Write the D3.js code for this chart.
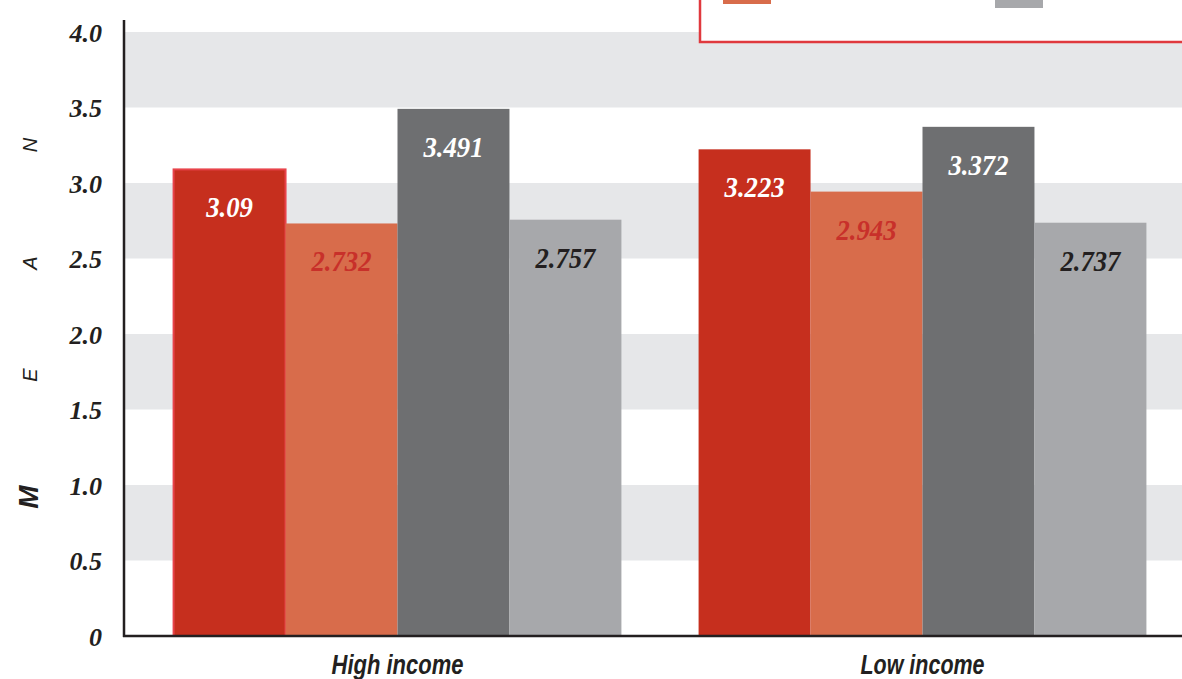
<!DOCTYPE html>
<html>
<head>
<meta charset="utf-8">
<script src="https://cdn.jsdelivr.net/npm/d3@7"></script>
<style>
  html, body { margin: 0; padding: 0; background: #ffffff; }
  svg { display: block; }
  .num { font-family: "Liberation Serif", "DejaVu Serif", serif; font-style: italic; font-weight: bold; }
  .cat { font-family: "Liberation Sans", "DejaVu Sans", sans-serif; font-style: italic; font-weight: bold; }
  .ttl { font-family: "Liberation Sans", "DejaVu Sans", sans-serif; font-style: italic; }
</style>
</head>
<body>
<script>
// Mean scores by income group
const categories = ["High income", "Low income"];
const seriesKeys = ["s1", "s2", "s3", "s4"];
const s1Values = [3.09, 3.223];
const s2Values = [2.732, 2.943];
const s3Values = [3.491, 3.372];
const s4Values = [2.757, 2.737];
const yTicks = [0, 0.5, 1.0, 1.5, 2.0, 2.5, 3.0, 3.5, 4.0];
const yTickLabels = ["0", "0.5", "1.0", "1.5", "2.0", "2.5", "3.0", "3.5", "4.0"];
const axisTitleLetters = ["M", "E", "A", "N"];

const seriesValues = [s1Values, s2Values, s3Values, s4Values];
const fills = ["#c62f1e", "#d86c4b", "#6e6f71", "#a7a8ab"];
const labelColors = ["#ffffff", "#c8302a", "#ffffff", "#231f20"];

const W = 1182, H = 679;
const svg = d3.select("body").append("svg").attr("width", W).attr("height", H);

const y = d3.scaleLinear().domain([0, 4]).range([636, 32]);
const x0 = d3.scaleBand().domain(categories).range([135, 1185])
  .paddingInner(0.147).paddingOuter(0.0735);
const x1 = d3.scaleBand().domain(seriesKeys).range([0, x0.bandwidth()]);

// alternating background bands (every other half-unit interval)
const bandSpans = d3.range(0, yTicks.length - 1).filter(i => i % 2 === 1).map(i => [yTicks[i], yTicks[i + 1]]);
svg.append("g").selectAll("rect").data(bandSpans).join("rect")
  .attr("x", 124).attr("width", W - 124)
  .attr("y", d => y(d[1])).attr("height", d => y(d[0]) - y(d[1]))
  .attr("fill", "#e6e7e9");

// bars
const groups = svg.append("g").selectAll("g").data(categories).join("g")
  .attr("transform", d => `translate(${x0(d)},0)`);

groups.each(function (cat, ci) {
  const g = d3.select(this);
  seriesKeys.forEach((k, si) => {
    const v = seriesValues[si][ci];
    g.append("rect")
      .attr("x", x1(k)).attr("width", x1.bandwidth())
      .attr("y", y(v)).attr("height", y(0) - y(v))
      .attr("fill", fills[si])
      .attr("stroke", si === 0 && ci === 0 ? "#e8434a" : "none")
      .attr("stroke-width", si === 0 && ci === 0 ? 2 : 0);
    g.append("text").attr("class", "num")
      .attr("x", x1(k) + x1.bandwidth() / 2)
      .attr("y", y(v) + 48)
      .attr("text-anchor", "middle")
      .attr("font-size", 29)
      .attr("fill", labelColors[si])
      .attr("transform", `translate(${x1(k) + x1.bandwidth() / 2},0) scale(0.92,1) translate(${-(x1(k) + x1.bandwidth() / 2)},0)`)
      .text(d3.format(".4~f")(v));
  });
});

// y axis
const yAxis = d3.axisLeft(y).tickValues(yTicks).tickSize(0)
  .tickFormat((d, i) => yTickLabels[i]);
const ya = svg.append("g").attr("transform", "translate(124,0)").call(yAxis);
ya.select(".domain").remove();
ya.selectAll("text").attr("class", "num").attr("font-size", 26)
  .attr("fill", "#231f20").attr("x", -22).attr("dy", "0.35em");

svg.append("line").attr("x1", 124).attr("x2", 124).attr("y1", 20).attr("y2", 637)
  .attr("stroke", "#231f20").attr("stroke-width", 2.5);

// x axis
const xAxis = d3.axisBottom(x0).tickSize(0);
const xa = svg.append("g").attr("transform", "translate(0,636)").call(xAxis);
xa.select(".domain").remove();
xa.selectAll("text").attr("class", "cat").attr("font-size", 27)
  .attr("fill", "#231f20").attr("dy", 0).attr("y", 38)
  .attr("textLength", d => d === categories[0] ? 132 : 124)
  .attr("lengthAdjust", "spacingAndGlyphs");
svg.append("line").attr("x1", 123).attr("x2", W).attr("y1", 636).attr("y2", 636)
  .attr("stroke", "#231f20").attr("stroke-width", 2.5);

// axis title, one letter at a time
const titleY = [497, 375, 263, 145];
svg.append("g").selectAll("text").data(axisTitleLetters).join("text")
  .attr("class", "ttl")
  .attr("transform", (d, i) => `translate(${i === 0 ? 38 : 37},${titleY[i]}) rotate(-90)`)
  .attr("text-anchor", "middle")
  .style("font-size", (d, i) => i === 0 ? "28px" : "20px")
  .style("font-weight", (d, i) => i === 0 ? "bold" : "normal")
  .attr("fill", "#231f20")
  .text(d => d);

// legend
const legend = svg.append("g");
legend.append("rect").attr("x", 700).attr("y", -20).attr("width", 520).attr("height", 62)
  .attr("fill", "#ffffff").attr("stroke", "#e0393e").attr("stroke-width", 2.5);
legend.append("rect").attr("x", 723).attr("y", -10).attr("width", 48).attr("height", 14)
  .attr("fill", fills[1]);
legend.append("rect").attr("x", 995).attr("y", -6).attr("width", 48).attr("height", 14)
  .attr("fill", fills[3]);
</script>
</body>
</html>
